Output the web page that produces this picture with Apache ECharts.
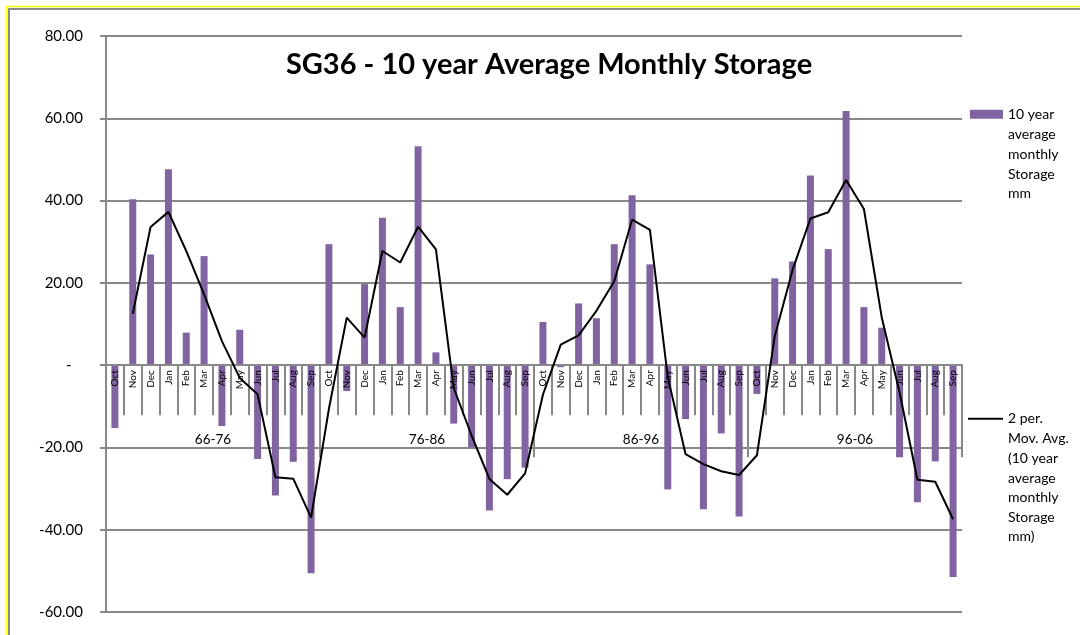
<!DOCTYPE html>
<html>
<head>
<meta charset="utf-8">
<script src="https://cdn.jsdelivr.net/npm/echarts@6/dist/echarts.min.js"></script>
<style>
html,body{margin:0;padding:0;background:#fff;}
#c{width:1080px;height:635px;}
</style>
</head>
<body>
<div id="c"></div>
<script>
const months = ['Oct','Nov','Dec','Jan','Feb','Mar','Apr','May','Jun','Jul','Aug','Sep'];
const groups = ['66-76','76-86','86-96','96-06'];
const categories = [];
groups.forEach(function(g){ months.forEach(function(m){ categories.push(g + ' ' + m); }); });

const storage66 = [-15.3, 40.3, 26.9, 47.6, 7.9, 26.5, -14.8, 8.6, -22.8, -31.7, -23.5, -50.6];
const storage76 = [29.4, -6.3, 19.7, 35.8, 14.1, 53.2, 3.1, -14.2, -20.0, -35.3, -27.7, -24.9];
const storage86 = [10.5, -0.5, 15.0, 11.4, 29.4, 41.3, 24.5, -30.2, -13.1, -35.0, -16.6, -36.8];
const storage96 = [-7.0, 21.1, 25.2, 46.1, 28.2, 61.8, 14.1, 9.1, -22.4, -33.3, -23.4, -51.5];
const storage = storage66.concat(storage76, storage86, storage96);

const movAvg = ['-', 12.5, 33.6, 37.25, 27.75, 17.2, 5.85, -3.1, -7.1, -27.25, -27.6, -37.05,
  -10.6, 11.55, 6.7, 27.75, 24.95, 33.65, 28.15, -5.55, -17.1, -27.65, -31.5, -26.3,
  -7.2, 5.0, 7.25, 13.2, 20.4, 35.35, 32.9, -2.85, -21.65, -24.05, -25.8, -26.7,
  -21.9, 7.05, 23.15, 35.65, 37.15, 45.0, 37.95, 11.6, -6.65, -27.85, -28.35, -37.45];

const yTicks = [-60, -40, -20, 0, 20, 40, 60, 80];

const barName = '10 year\naverage\nmonthly\nStorage\nmm';
const lineName = '2 per.\nMov. Avg.\n(10 year\naverage\nmonthly\nStorage\nmm)';

const gray = '#888888';
const font = 'Lato';
const lh = 19.6;

const gridTop = 36, gridBottom = 23, H = 635;
const yMin = -60, yMax = 80;
const plotBottom = H - gridBottom;
const zeroY = gridTop + (plotBottom - gridTop) * yMax / (yMax - yMin);
const xOffset = -(plotBottom - zeroY);

function firstLine(n){ return n.split('\n')[0]; }
function restLines(n){ return n.split('\n').slice(1).join('\n'); }

const chart = echarts.init(document.getElementById('c'));
chart.setOption({
  animation: false,
  backgroundColor: '#ffffff',
  textStyle: {fontFamily: font},
  title: {
    text: 'SG36 - 10 year Average Monthly Storage',
    left: 544, top: 45, textAlign: 'center',
    textStyle: {fontFamily: font, fontSize: 29, fontWeight: 'bold', color: '#000'}
  },
  graphic: [
    {type: 'rect', shape: {x: 6.5, y: 6.5, width: 1200, height: 800}, style: {fill: 'none', stroke: '#ffff00', lineWidth: 1.5}, silent: true, z: -1},
    {type: 'rect', shape: {x: 9, y: 9, width: 1200, height: 800}, style: {fill: 'none', stroke: '#8a8a8a', lineWidth: 2}, silent: true, z: -1},
    {type: 'text', left: 1008, top: 125, silent: true,
      style: {text: restLines(barName), fontFamily: font, fontSize: 14, lineHeight: lh, fill: '#000'}},
    {type: 'text', left: 1008, top: 429, silent: true,
      style: {text: restLines(lineName), fontFamily: font, fontSize: 14, lineHeight: lh, fill: '#000'}}
  ],
  legend: [
    {
      data: [{name: barName, icon: 'rect'}],
      orient: 'vertical', left: 970, top: 104.5, padding: 0,
      itemWidth: 33, itemHeight: 9,
      formatter: firstLine,
      textStyle: {fontFamily: font, fontSize: 14, color: '#000', lineHeight: lh}
    },
    {
      data: [{name: lineName, icon: 'path://M0,0H36V2H0Z'}],
      orient: 'vertical', left: 968, top: 409, padding: 0,
      itemWidth: 35, itemHeight: 2,
      formatter: firstLine,
      textStyle: {fontFamily: font, fontSize: 14, color: '#000', lineHeight: lh}
    }
  ],
  grid: {left: 106, right: 118, top: gridTop, bottom: gridBottom, containLabel: false, outerBoundsMode: 'none'},
  xAxis: [
    {
      type: 'category', data: categories, position: 'bottom', offset: xOffset, z: 3,
      axisLine: {onZero: false, lineStyle: {color: gray, width: 2}},
      axisTick: {show: true, interval: 0, length: 50, lineStyle: {color: gray, width: 2}},
      axisLabel: {
        interval: 0, rotate: 90, fontSize: 10, margin: 5, color: '#000',
        formatter: function(v){ return v.split(' ')[1]; }
      },
      splitLine: {show: false}
    },
    {
      type: 'category', data: groups, position: 'bottom', offset: xOffset, z: 3,
      axisLine: {show: false, onZero: false},
      axisTick: {show: true, interval: 0, length: 92, lineStyle: {color: gray, width: 2}},
      axisLabel: {interval: 0, fontSize: 13.5, margin: 67, color: '#000'},
      splitLine: {show: false}
    }
  ],
  yAxis: {
    type: 'value', min: yMin, max: yMax, interval: 20,
    axisLine: {show: true, lineStyle: {color: gray, width: 2}},
    axisTick: {show: true, length: 6, lineStyle: {color: gray, width: 2}},
    axisLabel: {
      fontSize: 15, margin: 23, color: '#000',
      customValues: yTicks,
      formatter: function(v){ return v === 0 ? '-   ' : v.toFixed(2); }
    },
    splitLine: {show: true, lineStyle: {color: gray, width: 2}}
  },
  series: [
    {
      name: barName, type: 'bar', data: storage, barWidth: 7,
      itemStyle: {color: '#8064a2'}, xAxisIndex: 0, z: 2
    },
    {
      name: lineName, type: 'line', data: movAvg, xAxisIndex: 0,
      symbol: 'none', showSymbol: false,
      lineStyle: {color: '#000', width: 2}, itemStyle: {color: '#000'}, z: 4
    }
  ]
});
</script>
</body>
</html>
